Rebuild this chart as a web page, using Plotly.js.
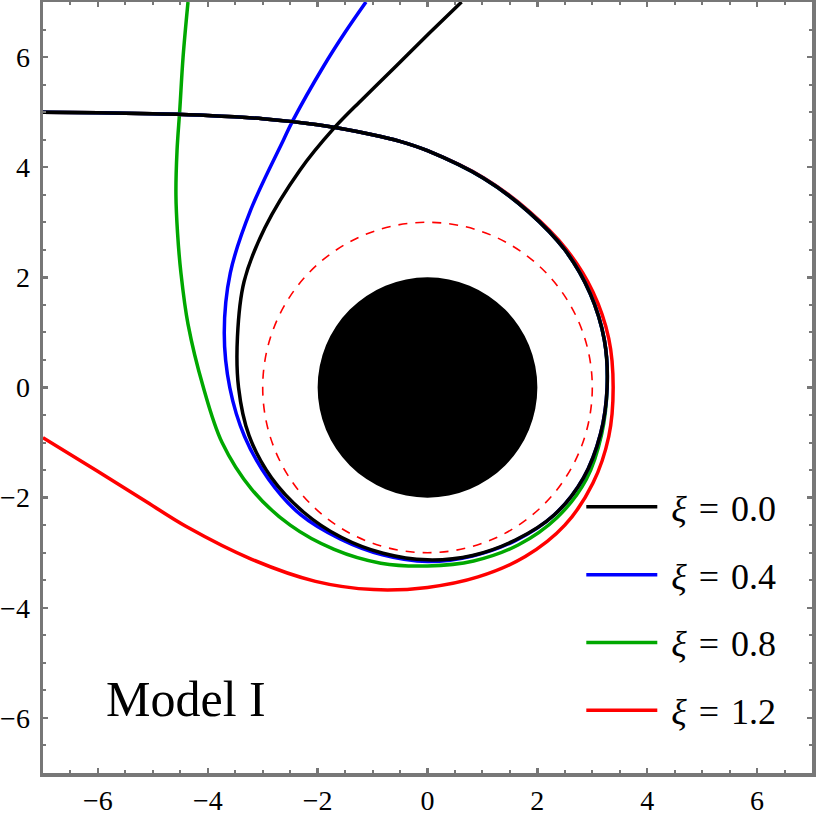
<!DOCTYPE html>
<html>
<head>
<meta charset="utf-8">
<script src="https://cdn.plot.ly/plotly-3.0.1.min.js"></script>
<style>
  body { margin: 0; background: #fff; }
  #plot { width: 817px; height: 817px; }
</style>
</head>
<body>
<div id="plot"></div>
<script>
// light rays around the black hole
var xBlack = [-7.00, -6.00, -5.00, -4.00, -3.00, -2.00, -1.00, -0.50, 0.00, 1.02, 1.84, 2.50, 2.96, 3.22, 3.27, 3.15, 2.84, 2.31, 1.60, 0.82, 0.00, -0.81, -1.57, -2.26, -2.84, -3.25, -3.44, -3.46, -3.34, -2.96, -2.32, -1.71, -1.18, -0.57, 0.04, 0.62];
var yBlack = [5.00, 4.99, 4.97, 4.94, 4.88, 4.77, 4.59, 4.47, 4.30, 3.80, 3.19, 2.50, 1.71, 0.86, 0.00, -0.84, -1.64, -2.31, -2.77, -3.05, -3.13, -3.01, -2.72, -2.26, -1.64, -0.87, 0.00, 0.92, 1.92, 2.90, 3.95, 4.70, 5.24, 5.84, 6.44, 7.00];

var xBlue = [-7.00, -6.00, -5.00, -4.00, -3.00, -2.00, -1.00, -0.50, 0.00, 1.02, 1.84, 2.50, 2.96, 3.22, 3.27, 3.15, 2.84, 2.31, 1.60, 0.82, 0.00, -0.82, -1.59, -2.31, -2.89, -3.33, -3.60, -3.70, -3.59, -3.22, -2.62, -2.45, -1.90, -1.50, -1.12];
var yBlue = [5.00, 4.99, 4.97, 4.94, 4.88, 4.77, 4.59, 4.47, 4.30, 3.80, 3.19, 2.50, 1.71, 0.86, 0.00, -0.84, -1.64, -2.31, -2.78, -3.06, -3.16, -3.04, -2.75, -2.31, -1.67, -0.89, 0.00, 0.99, 2.08, 3.22, 4.50, 4.85, 5.82, 6.45, 7.00];

var xGreen = [-7.00, -6.00, -5.00, -4.00, -3.00, -2.00, -1.00, -0.50, 0.00, 1.02, 1.84, 2.50, 2.96, 3.22, 3.27, 3.17, 2.89, 2.36, 1.65, 0.84, 0.00, -0.85, -1.70, -2.50, -3.20, -3.74, -4.08, -4.36, -4.49, -4.55, -4.58, -4.56, -4.51, -4.45, -4.36];
var yGreen = [5.00, 4.99, 4.97, 4.94, 4.88, 4.77, 4.59, 4.47, 4.30, 3.80, 3.19, 2.50, 1.71, 0.86, 0.00, -0.85, -1.67, -2.36, -2.86, -3.15, -3.24, -3.19, -2.94, -2.50, -1.85, -1.00, 0.00, 1.15, 2.09, 2.80, 3.50, 4.30, 5.04, 6.00, 7.00];

var xRed = [-7.00, -6.00, -5.00, -4.00, -3.00, -2.00, -1.00, -0.50, 0.00, 1.02, 1.85, 2.52, 3.01, 3.30, 3.38, 3.30, 3.01, 2.50, 1.78, 0.92, 0.00, -0.98, -2.04, -3.20, -4.40, -5.11, -6.02, -7.00];
var yRed = [5.00, 4.99, 4.97, 4.94, 4.88, 4.77, 4.59, 4.47, 4.30, 3.81, 3.20, 2.52, 1.74, 0.89, 0.00, -0.89, -1.74, -2.50, -3.07, -3.44, -3.63, -3.67, -3.52, -3.12, -2.52, -2.08, -1.51, -0.91];

var xiLabels = ['0.0', '0.4', '0.8', '1.2'];
var lineColors = ['#000000', '#0000ff', '#00a800', '#ff0000'];

var horizonR = 2;   // filled disk
var photonR = 3;    // dashed circle

var serif = '"Liberation Serif", "Times New Roman", serif';

function ray(x, y, i) {
  return {
    x: x, y: y,
    mode: 'lines',
    type: 'scatter',
    name: '\u00a0<i>ξ</i>\u2004=\u2004' + xiLabels[i],
    legendgroup: 'g' + i,
    legendrank: i + 1,
    line: { color: lineColors[i], width: 3.5, shape: 'spline', smoothing: 1 },
    hoverinfo: 'skip'
  };
}

// red first so black sits on top
var data = [
  ray(xRed, yRed, 3),
  ray(xGreen, yGreen, 2),
  ray(xBlue, yBlue, 1),
  ray(xBlack, yBlack, 0)
];

var axisStyle = {
  range: [-7, 7],
  tick0: 0,
  dtick: 2,
  ticks: 'inside',
  ticklen: 5,
  tickwidth: 2.5,
  tickcolor: '#777777',
  showline: true,
  linecolor: '#777777',
  linewidth: 3.5,
  mirror: 'allticks',
  showgrid: false,
  zeroline: false,
  tickfont: { family: serif, size: 28, color: '#000' },
  minor: { dtick: 0.5, ticks: 'inside', ticklen: 3, tickwidth: 2, tickcolor: '#777777', showgrid: false }
};

var layout = {
  width: 817,
  height: 817,
  margin: { l: 43, r: 5, t: 2, b: 44, pad: 0 },
  font: { family: serif, size: 28, color: '#000' },
  paper_bgcolor: '#fff',
  plot_bgcolor: '#fff',
  showlegend: true,
  xaxis: Object.assign({}, axisStyle, { ticklabelstandoff: 0 }),
  yaxis: Object.assign({}, axisStyle, { ticklabelstandoff: 4 }),
  legend: {
    x: 0.700,
    y: 0.384,
    xanchor: 'left',
    yanchor: 'top',
    bgcolor: 'rgba(0,0,0,0)',
    borderwidth: 0,
    traceorder: 'grouped',
    tracegroupgap: 18,
    itemwidth: 71,
    font: { family: serif, size: 36, color: '#000' }
  },
  shapes: [
    {
      type: 'circle', xref: 'x', yref: 'y', layer: 'below',
      x0: -horizonR, x1: horizonR, y0: -horizonR, y1: horizonR,
      fillcolor: '#000', line: { width: 0 }
    },
    {
      type: 'circle', xref: 'x', yref: 'y', layer: 'below',
      x0: -photonR, x1: photonR, y0: -photonR, y1: photonR,
      fillcolor: 'rgba(0,0,0,0)', line: { color: '#ff0000', width: 1.6, dash: '9px,8px' }
    }
  ],
  annotations: [
    {
      text: 'Model I', xref: 'x', yref: 'y', x: -4.39, y: -5.65,
      xanchor: 'center', yanchor: 'middle', showarrow: false,
      font: { family: serif, size: 50, color: '#000' }
    }
  ]
};

Plotly.newPlot('plot', data, layout, { displayModeBar: false, staticPlot: true });
</script>
</body>
</html>
